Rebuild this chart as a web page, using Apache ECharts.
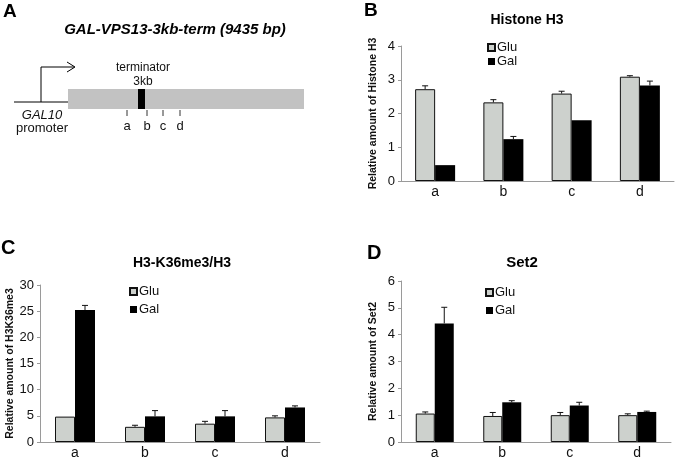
<!DOCTYPE html>
<html>
<head>
<meta charset="utf-8">
<script src="https://cdn.jsdelivr.net/npm/echarts@6/dist/echarts.min.js"></script>
<style>
html,body{margin:0;padding:0;background:#fff;}
#chart{width:679px;height:460px;}
</style>
</head>
<body>
<div id="chart"></div>
<script>
// ---- data ----
var categories = ['a', 'b', 'c', 'd'];
var legendNames = ['Glu', 'Gal'];

var h3Glu = [2.72, 2.33, 2.59, 3.09];
var h3GluErr = [0.10, 0.08, 0.07, 0.03];
var h3Gal = [0.47, 1.24, 1.80, 2.83];
var h3GalErr = [0, 0.08, 0, 0.13];

var k36Glu = [4.85, 2.9, 3.5, 4.7];
var k36GluErr = [0, 0.3, 0.45, 0.3];
var k36Gal = [25.2, 4.9, 4.9, 6.6];
var k36GalErr = [0.9, 1.1, 1.1, 0.3];

var set2Glu = [1.06, 0.97, 1.00, 1.00];
var set2GluErr = [0.06, 0.13, 0.10, 0.05];
var set2Gal = [4.42, 1.48, 1.36, 1.12];
var set2GalErr = [0.60, 0.06, 0.12, 0.03];

var yTicksH3 = {min: 0, max: 4, interval: 1};
var yTicksK36 = {min: 0, max: 30, interval: 5};
var yTicksSet2 = {min: 0, max: 6, interval: 1};

// ---- styling ----
var FONT = 'Liberation Sans, Arial, sans-serif';
var GLU_COLOR = '#cdd1cd';
var GAL_COLOR = '#000000';
var AXIS_COLOR = '#9a9a9a';

function xAx(gi) {
  return {
    type: 'category', gridIndex: gi, data: categories,
    axisLine: {lineStyle: {color: AXIS_COLOR, width: 1}},
    axisTick: {length: 4, lineStyle: {color: AXIS_COLOR}},
    axisLabel: {fontFamily: FONT, fontSize: 14, color: '#111', margin: 4}
  };
}
function yAx(gi, t, name) {
  return {
    type: 'value', gridIndex: gi, min: t.min, max: t.max, interval: t.interval,
    name: name, nameLocation: 'middle', nameRotate: 90, nameGap: 22,
    nameTextStyle: {fontFamily: FONT, fontSize: 10.5, fontWeight: 'bold', color: '#111'},
    splitLine: {show: false},
    axisLine: {show: true, lineStyle: {color: AXIS_COLOR, width: 1}},
    axisTick: {show: true, length: 3, lineStyle: {color: AXIS_COLOR}},
    axisLabel: {fontFamily: FONT, fontSize: 13, color: '#111', margin: 6}
  };
}
function barSeries(name, gi, vals, barW) {
  var isGlu = name === 'Glu';
  return {
    type: 'bar', name: name, xAxisIndex: gi, yAxisIndex: gi, data: vals,
    barWidth: barW, barGap: '0%',
    itemStyle: {color: isGlu ? GLU_COLOR : GAL_COLOR, borderColor: '#111', borderWidth: isGlu ? 1 : 0},
    emphasis: {disabled: true}, z: 2
  };
}
function errSeries(name, gi, vals, errs, side, barW) {
  var d = vals.map(function (v, i) { return [i, v, errs[i]]; });
  return {
    type: 'custom', name: name + ' err', xAxisIndex: gi, yAxisIndex: gi, data: d, z: 5,
    renderItem: function (params, api) {
      var idx = api.value(0), v = api.value(1), e = api.value(2);
      if (!e) return null;
      var base = api.coord([idx, v]);
      var top = api.coord([idx, v + e]);
      var x = base[0] + side * barW / 2;
      var cap = 3;
      return {
        type: 'group',
        children: [
          {type: 'line', shape: {x1: x, y1: base[1], x2: x, y2: top[1]}, style: {stroke: '#111', lineWidth: 1}},
          {type: 'line', shape: {x1: x - cap, y1: top[1], x2: x + cap, y2: top[1]}, style: {stroke: '#111', lineWidth: 1}}
        ]
      };
    }
  };
}
function legendAt(left, top, gap) {
  return {
    data: legendNames, orient: 'vertical', left: left, top: top, padding: 0,
    itemWidth: 7, itemHeight: 7, itemGap: gap, icon: 'rect', selectedMode: false,
    textStyle: {fontFamily: FONT, fontSize: 13, color: '#111', padding: [0, 0, 0, -3]}
  };
}

var chart = echarts.init(document.getElementById('chart'), null, {renderer: 'canvas'});

var graphics = [
  // panel labels
  {type: 'text', left: 3, top: 2, style: {text: 'A', font: 'bold 19px ' + FONT, fill: '#000'}},
  {type: 'text', left: 364, top: 1, style: {text: 'B', font: 'bold 19px ' + FONT, fill: '#000'}},
  {type: 'text', left: 1, top: 238, style: {text: 'C', font: 'bold 20px ' + FONT, fill: '#000'}},
  {type: 'text', left: 367, top: 243, style: {text: 'D', font: 'bold 20px ' + FONT, fill: '#000'}},
  // chart titles
  {type: 'text', x: 527, y: 20, style: {text: 'Histone H3', font: 'bold 14px ' + FONT, fill: '#000', textAlign: 'center', textVerticalAlign: 'middle'}},
  {type: 'text', x: 182, y: 263, style: {text: 'H3-K36me3/H3', font: 'bold 14px ' + FONT, fill: '#000', textAlign: 'center', textVerticalAlign: 'middle'}},
  {type: 'text', x: 522, y: 263, style: {text: 'Set2', font: 'bold 15px ' + FONT, fill: '#000', textAlign: 'center', textVerticalAlign: 'middle'}},
  // panel A schematic
  {type: 'text', x: 175, y: 30, style: {text: 'GAL-VPS13-3kb-term (9435 bp)', font: 'italic bold 15px ' + FONT, fill: '#000', textAlign: 'center', textVerticalAlign: 'middle'}},
  {type: 'rect', shape: {x: 68, y: 89, width: 236, height: 20}, style: {fill: '#c2c2c2'}},
  {type: 'rect', shape: {x: 138, y: 89, width: 7, height: 20}, style: {fill: '#000'}},
  {type: 'text', x: 143, y: 68, style: {text: 'terminator', font: '12px ' + FONT, fill: '#111', textAlign: 'center', textVerticalAlign: 'middle'}},
  {type: 'text', x: 143, y: 82, style: {text: '3kb', font: '12px ' + FONT, fill: '#111', textAlign: 'center', textVerticalAlign: 'middle'}},
  {type: 'polyline', shape: {points: [[14, 102], [68, 102]]}, style: {stroke: '#000', lineWidth: 1}},
  {type: 'polyline', shape: {points: [[41, 102], [41, 67], [74, 67]]}, style: {stroke: '#000', lineWidth: 1, fill: null}},
  {type: 'polyline', shape: {points: [[67, 62], [75, 67], [67, 72]]}, style: {stroke: '#000', lineWidth: 1, fill: null}},
  {type: 'text', x: 42, y: 115, style: {text: 'GAL10', font: 'italic 13px ' + FONT, fill: '#111', textAlign: 'center', textVerticalAlign: 'middle'}},
  {type: 'text', x: 42, y: 128, style: {text: 'promoter', font: '13px ' + FONT, fill: '#111', textAlign: 'center', textVerticalAlign: 'middle'}},
  {type: 'line', shape: {x1: 127, y1: 110, x2: 127, y2: 116}, style: {stroke: '#333', lineWidth: 1}},
  {type: 'line', shape: {x1: 147, y1: 110, x2: 147, y2: 116}, style: {stroke: '#333', lineWidth: 1}},
  {type: 'line', shape: {x1: 163, y1: 110, x2: 163, y2: 116}, style: {stroke: '#333', lineWidth: 1}},
  {type: 'line', shape: {x1: 180, y1: 110, x2: 180, y2: 116}, style: {stroke: '#333', lineWidth: 1}},
  {type: 'text', x: 127, y: 126, style: {text: 'a', font: '13px ' + FONT, fill: '#111', textAlign: 'center', textVerticalAlign: 'middle'}},
  {type: 'text', x: 147, y: 126, style: {text: 'b', font: '13px ' + FONT, fill: '#111', textAlign: 'center', textVerticalAlign: 'middle'}},
  {type: 'text', x: 163, y: 126, style: {text: 'c', font: '13px ' + FONT, fill: '#111', textAlign: 'center', textVerticalAlign: 'middle'}},
  {type: 'text', x: 180, y: 126, style: {text: 'd', font: '13px ' + FONT, fill: '#111', textAlign: 'center', textVerticalAlign: 'middle'}}
];

var option = {
  backgroundColor: '#fff',
  animation: false,
  textStyle: {fontFamily: FONT},
  grid: [
    {left: 401, top: 46, width: 273, height: 135},
    {left: 40, top: 285, width: 280, height: 161},
    {left: 401, top: 281, width: 270, height: 162}
  ],
  xAxis: [xAx(0), xAx(1), xAx(2)],
  yAxis: [
    yAx(0, yTicksH3, 'Relative amount of Histone H3'),
    yAx(1, yTicksK36, 'Relative amount of H3K36me3'),
    yAx(2, yTicksSet2, 'Relative amount of Set2')
  ],
  legend: [legendAt(487, 41, 1), legendAt(129, 285, 5), legendAt(485, 286, 5)],
  series: [
    barSeries('Glu', 0, h3Glu, 20), barSeries('Gal', 0, h3Gal, 20),
    errSeries('Glu', 0, h3Glu, h3GluErr, -1, 20), errSeries('Gal', 0, h3Gal, h3GalErr, 1, 20),
    barSeries('Glu', 1, k36Glu, 20), barSeries('Gal', 1, k36Gal, 20),
    errSeries('Glu', 1, k36Glu, k36GluErr, -1, 20), errSeries('Gal', 1, k36Gal, k36GalErr, 1, 20),
    barSeries('Glu', 2, set2Glu, 19), barSeries('Gal', 2, set2Gal, 19),
    errSeries('Glu', 2, set2Glu, set2GluErr, -1, 19), errSeries('Gal', 2, set2Gal, set2GalErr, 1, 19)
  ],
  graphic: graphics
};
chart.setOption(option);
</script>
</body>
</html>
